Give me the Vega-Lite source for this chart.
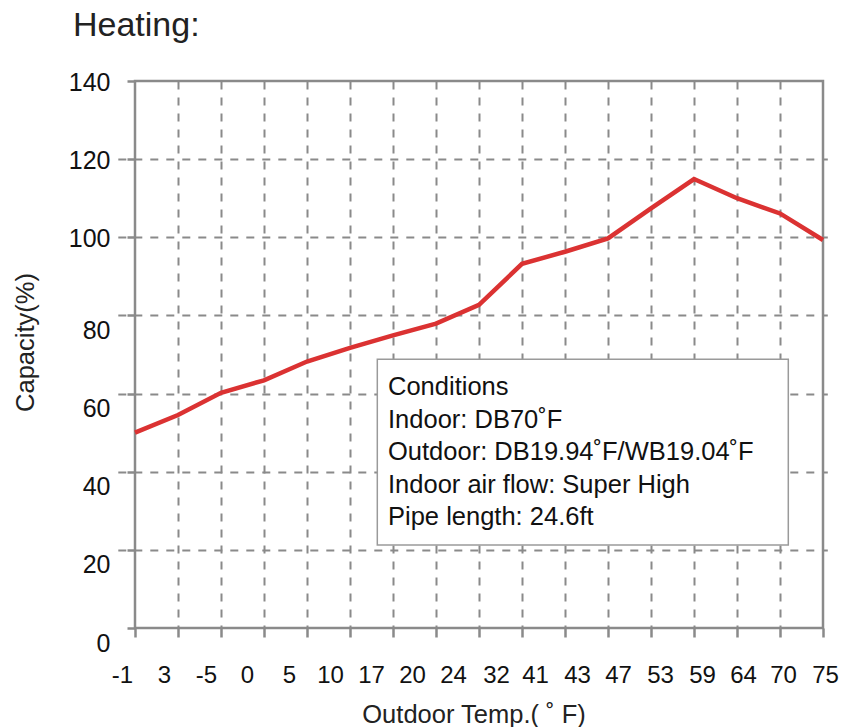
{
  "$schema": "https://vega.github.io/schema/vega-lite/v6.json",
  "width": 688,
  "height": 547,
  "autosize": {"type": "none"},
  "padding": {"left": 135, "top": 81, "right": 20, "bottom": 99},
  "title": {"text": "Heating:", "anchor": "start", "frame": "group", "orient": "top", "dx": -62, "baseline": "alphabetic", "offset": 0, "fontSize": 34, "fontWeight": "normal", "color": "#222222", "font": "Liberation Sans"},
  "config": {
    "font": "Liberation Sans",
    "view": {"stroke": "#8a8a8a", "strokeWidth": 2.5},
    "axis": {
      "domain": false,
      "grid": true,
      "labelFont": "Liberation Sans",
      "titleFont": "Liberation Sans",
      "labelFontSize": 25,
      "titleFontSize": 25.5,
      "labelColor": "#111111",
      "titleColor": "#222222",
      "titleFontWeight": "normal",
      "tickColor": "#8a8a8a",
      "tickWidth": 2.5,
      "gridColor": "#8a8a8a",
      "gridDash": [8, 8],
      "gridWidth": 2
    }
  },
  "data": {"values": [
    {"idx": 0, "capacity": 50.0},
    {"idx": 1, "capacity": 54.5},
    {"idx": 2, "capacity": 60.2},
    {"idx": 3, "capacity": 63.4},
    {"idx": 4, "capacity": 68.2},
    {"idx": 5, "capacity": 71.7},
    {"idx": 6, "capacity": 74.9},
    {"idx": 7, "capacity": 77.9},
    {"idx": 8, "capacity": 82.7},
    {"idx": 9, "capacity": 93.2},
    {"idx": 10, "capacity": 96.3},
    {"idx": 11, "capacity": 99.7},
    {"idx": 12, "capacity": 107.4},
    {"idx": 13, "capacity": 114.9},
    {"idx": 14, "capacity": 110.0},
    {"idx": 15, "capacity": 106.1},
    {"idx": 16, "capacity": 99.3}
  ]},
  "layer": [
    {
      "mark": {"type": "line", "color": "#db3232", "strokeWidth": 4.5, "strokeJoin": "miter"},
      "encoding": {
        "x": {
          "field": "idx",
          "type": "quantitative",
          "scale": {"domain": [-0.4, 16.1], "range": [-17.2, 692.3], "nice": false, "zero": false},
          "axis": {
            "grid": true,
            "tickCount": 200,
            "values": [0, 1, 2, 3, 4, 5, 6, 7, 8, 9, 10, 11, 12, 13, 14, 15, 16, -0.302, 0.674, 1.651, 2.605, 3.581, 4.535, 5.488, 6.442, 7.395, 8.395, 9.302, 10.279, 11.233, 12.209, 13.186, 14.14, 15.07, 16.047],
            "labelExpr": "datum.value == round(datum.value) ? '' : ['-1','3','-5','0','5','10','17','20','24','32','41','43','47','53','59','64','70','75'][indexof([-0.302, 0.674, 1.651, 2.605, 3.581, 4.535, 5.488, 6.442, 7.395, 8.395, 9.302, 10.279, 11.233, 12.209, 13.186, 14.14, 15.07, 16.047], datum.value)]",
            "labelOverlap": false,
            "labelBound": false,
            "labelFlush": false,
            "labelFontSize": 24,
            "tickSize": 9,
            "labelPadding": 26,
            "tickColor": {"condition": {"test": "datum.value == round(datum.value)", "value": "#8a8a8a"}, "value": "transparent"},
            "gridColor": {"condition": {"test": "datum.value > 0 && datum.value < 16 && datum.value == round(datum.value)", "value": "#8a8a8a"}, "value": "transparent"},
            "title": "Outdoor Temp.( ˚ F)",
            "titleX": 338.5,
            "titleY": 94,
            "titleBaseline": "alphabetic"
          }
        },
        "y": {
          "field": "capacity",
          "type": "quantitative",
          "scale": {"domain": [0, 140], "nice": false, "zero": true},
          "axis": {
            "grid": true,
            "values": [0, 20, 40, 60, 80, 100, 120, 140],
            "tickSize": 8,
            "labelPadding": 17,
            "labelOffset": {"condition": {"test": "datum.value >= 100", "value": 1}, "value": 15},
            "gridColor": {"condition": {"test": "datum.value > 0 && datum.value < 140", "value": "#8a8a8a"}, "value": "transparent"},
            "title": "Capacity(%)",
            "titleX": -102,
            "titleY": 261,
            "titleBaseline": "alphabetic"
          }
        }
      }
    },
    {
      "data": {"values": [{"lines": ["Conditions", "Indoor: DB70˚F", "Outdoor: DB19.94˚F/WB19.04˚F", "Indoor air flow: Super High", "Pipe length: 24.6ft"]}]},
      "layer": [
        {
          "mark": {"type": "rect", "fill": "#ffffff", "stroke": "#9a9a9a", "strokeWidth": 1.5},
          "encoding": {
            "x": {"datum": 5.635, "type": "quantitative"},
            "x2": {"datum": 15.193},
            "y": {"datum": 68.77, "type": "quantitative"},
            "y2": {"datum": 21.24}
          }
        },
        {
          "mark": {"type": "text", "align": "left", "baseline": "alphabetic", "fontSize": 25.5, "lineHeight": 32.5, "color": "#111111", "font": "Liberation Sans"},
          "encoding": {
            "x": {"datum": 5.884, "type": "quantitative"},
            "y": {"datum": 59.63, "type": "quantitative"},
            "text": {"field": "lines"}
          }
        }
      ]
    }
  ]
}
